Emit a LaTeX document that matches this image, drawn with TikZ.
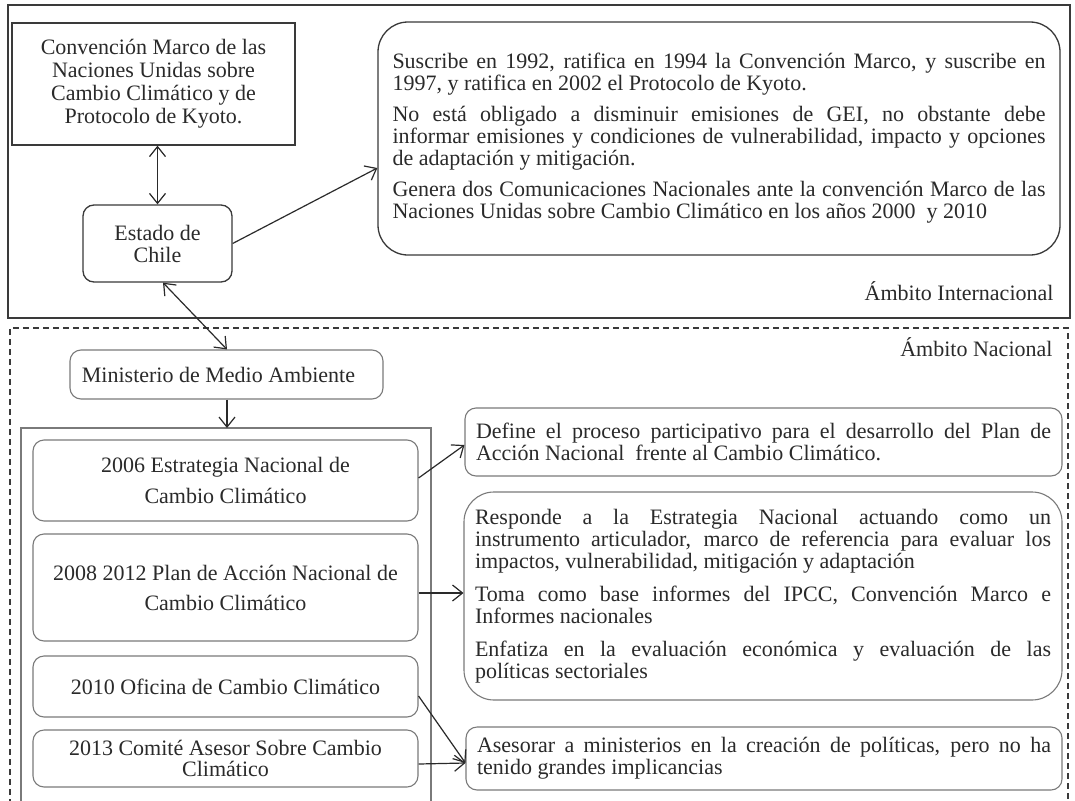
\documentclass[tikz,border=0pt]{standalone}
\usepackage{fontspec}
\setmainfont{Liberation Serif}
\usetikzlibrary{arrows.meta}
\definecolor{ink}{HTML}{2A2A2A}
\definecolor{darkline}{HTML}{3A3A3A}
\definecolor{lightline}{HTML}{7A7A7A}
\newcommand{\nohyph}{\hyphenpenalty=10000\exhyphenpenalty=10000\relax}
\tikzset{
  base/.style={font=\fontsize{22}{22}\selectfont\nohyph, text=ink},
  sharpbox/.style={base, draw=darkline, line width=1.3pt, align=center, inner sep=0pt},
  roundbox/.style={base, draw=darkline, line width=1.3pt, rounded corners=11pt, align=center, inner sep=0pt},
  lowbox/.style={base, draw=lightline, line width=1.1pt, rounded corners=11pt, align=center, inner sep=0pt},
  textbox/.style={base, draw=lightline, line width=1.1pt, rounded corners=11pt, align=justify, inner xsep=11pt, inner ysep=0pt},
  conn/.style={draw=ink, line width=1.2pt, -{Straight Barb[length=10pt,width=16pt,line width=1.2pt]}},
  biconn/.style={draw=ink, line width=1.2pt, {Straight Barb[length=10pt,width=16pt,line width=1.2pt]}-{Straight Barb[length=10pt,width=16pt,line width=1.2pt]}},
  label/.style={base}
}
\begin{document}
\begin{tikzpicture}[x=1pt,y=-1pt]
\useasboundingbox (0,0) rectangle (1075,800);
\fill[white] (0,0) rectangle (1075,800);

% frames
\node[draw=darkline, line width=1.3pt, minimum width=1062pt, minimum height=313pt, inner sep=0pt] (intl) at (539,161.5) {};
\draw[draw=darkline, line width=1.1pt, dash pattern=on 6pt off 4pt] (10,805) -- (10,328) -- (1068,328) -- (1068,805);
\draw[draw=lightline, line width=1.1pt] (21,805) -- (21,428) -- (431,428) -- (431,805);
\coordinate (contop) at (227,428);

% international
\node[sharpbox, minimum width=283pt, minimum height=122pt, font=\fontsize{22}{23}\selectfont] (conv) at (153.5,84)
  {Convención Marco de las\\Naciones Unidas sobre\\Cambio Climático y de\\Protocolo de Kyoto.};
\node[roundbox, minimum width=149pt, minimum height=77pt] (chile) at (157.5,243.5) {Estado de\\Chile};
\node[roundbox, rounded corners=30pt, align=justify, text width=653pt, minimum width=682pt, minimum height=233pt, inner xsep=14.5pt] (intinfo) at (719,138.5)
  {Suscribe en 1992, ratifica en 1994 la Convención Marco, y suscribe en 1997, y ratifica en 2002 el Protocolo de Kyoto.\par\vspace{9pt}
   No está obligado a disminuir emisiones de GEI, no obstante debe informar emisiones y condiciones de vulnerabilidad, impacto y opciones de adaptación y mitigación.\par\vspace{9pt}
   Genera dos Comunicaciones Nacionales ante la convención Marco de las Naciones Unidas sobre Cambio Climático en los años 2000~ y 2010};
\node[label, anchor=base east] (lblint) at (1057,300) {Ámbito Internacional};

% national
\node[label, anchor=base east] (lblnat) at (1056,356) {Ámbito Nacional};
\node[lowbox, minimum width=313pt, minimum height=49pt] (min) at (226.5,374.5) {Ministerio de Medio Ambiente\hspace{16pt}};
\node[lowbox, minimum width=385pt, minimum height=81pt, font=\fontsize{22}{31}\selectfont] (s2006) at (225.5,480.5) {2006 Estrategia Nacional de\\Cambio Climático};
\node[lowbox, minimum width=385pt, minimum height=107pt, font=\fontsize{22}{30}\selectfont] (s2008) at (225.5,587.5) {2008 2012 Plan de Acción Nacional de\\Cambio Climático};
\node[lowbox, minimum width=385pt, minimum height=61pt] (s2010) at (225.5,686.5) {2010 Oficina de Cambio Climático};
\node[lowbox, minimum width=385pt, minimum height=57pt, font=\fontsize{22}{21}\selectfont] (s2013) at (225.5,758.5) {2013 Comité Asesor Sobre Cambio\\Climático};

\node[textbox, minimum width=597pt, minimum height=68pt, text width=575pt] (ra) at (763.5,442)
  {Define el proceso participativo para el desarrollo del Plan de\linebreak Acción Nacional~ frente al Cambio Climático.};
\node[textbox, rounded corners=30pt, minimum width=598pt, minimum height=208pt, text width=576pt] (rb) at (763,596)
  {Responde a la Estrategia Nacional actuando como un\linebreak instrumento articulador, marco de referencia para evaluar los\linebreak impactos, vulnerabilidad, mitigación y adaptación\par\vspace{11pt}
   Toma como base informes del IPCC, Convención Marco e\linebreak Informes nacionales\par\vspace{11pt}
   Enfatiza en la evaluación económica y evaluación de las\linebreak políticas sectoriales};
\node[textbox, minimum width=596pt, minimum height=63pt, text width=574pt] (rc) at (764,758.5)
  {Asesorar a ministerios en la creación de políticas, pero no ha\linebreak tenido grandes implicancias};

% connectors
\draw[biconn] (conv.south -| chile.north) -- (chile.north);
\draw[conn] (chile.east) -- (intinfo.west |- 0,168);
\draw[biconn] ([xshift=5.5pt]chile.south) -- ([xshift=0.5pt]min.north);
\draw[conn] ([xshift=0.5pt]min.south) -- ([xshift=0.5pt]min.south |- contop);
\draw[conn] ([yshift=2.5pt]s2006.east) -- ([yshift=-3pt]ra.west);
\draw[conn] (s2008.east |- 0,593) -- (rb.west |- 0,593);
\draw[conn] ([yshift=-9.5pt]s2010.east) -- ([yshift=-4.5pt]rc.west);
\draw[conn] ([yshift=-5.5pt]s2013.east) -- ([yshift=-4.5pt]rc.west);
\end{tikzpicture}
\end{document}
